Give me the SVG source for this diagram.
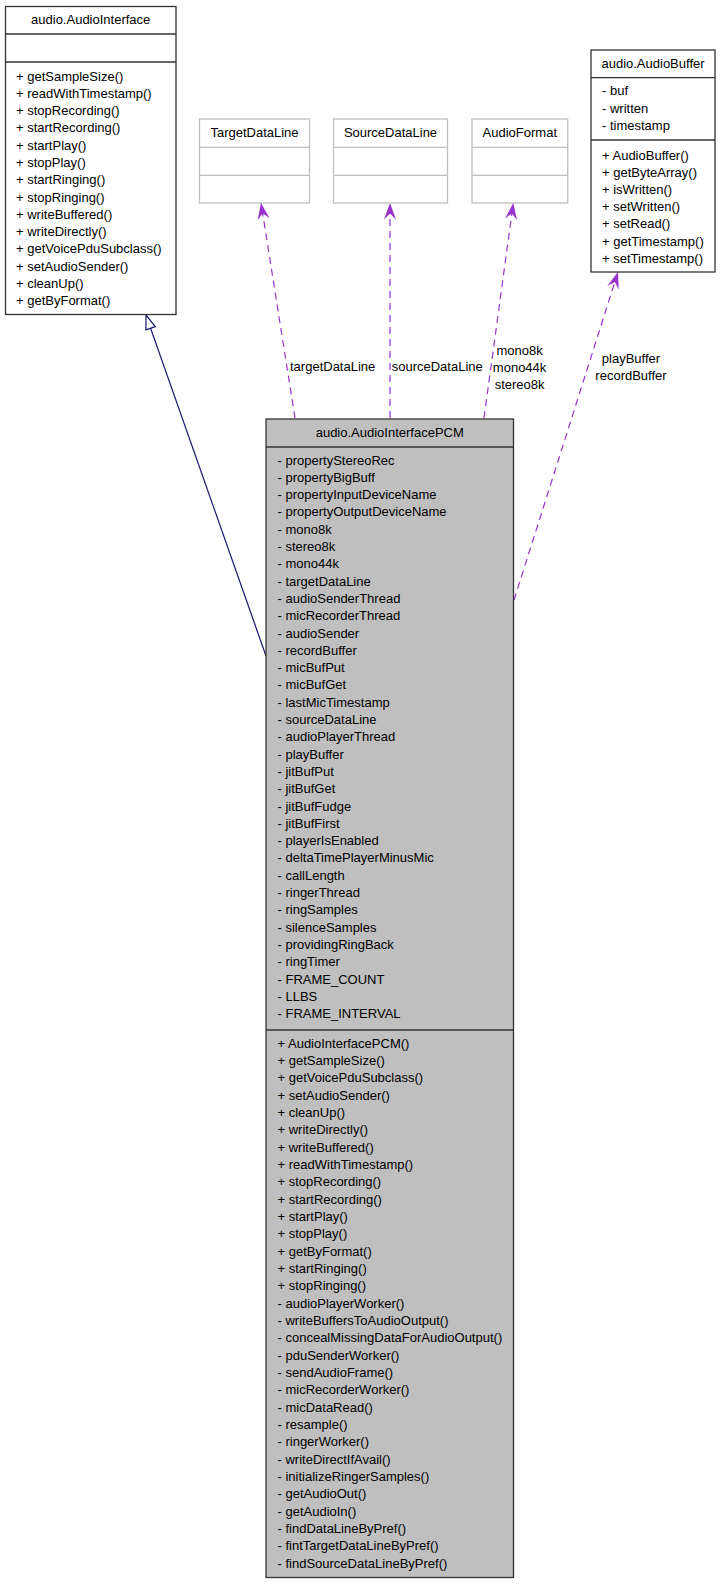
<svg xmlns="http://www.w3.org/2000/svg" width="720" height="1584" viewBox="0 0 720 1584">
<style>
text{font-family:"Liberation Sans",Arial,sans-serif;font-size:13px;fill:#000}
.c{text-anchor:middle}
.box{fill:#fff;stroke:#333;stroke-width:1.3}
.main{fill:#bfbfbf;stroke:#333;stroke-width:1.3}
.ext{fill:#fff;stroke:#c0c0c0;stroke-width:1.3}
.sep{stroke:#333;stroke-width:1.3}
.sepx{stroke:#c0c0c0;stroke-width:1.3}
.use{fill:none;stroke:#9a32cd;stroke-width:1.2;stroke-dasharray:7,5}
.inh{fill:none;stroke:#191970;stroke-width:1.2}
</style>
<defs>
<marker id="vee" markerUnits="userSpaceOnUse" viewBox="0 -7 17 14" refX="16.5" refY="0" markerWidth="17" markerHeight="14" orient="auto">
<path d="M16.5,0 L0,-6 L6,0 L0,6 Z" fill="#9a32cd" stroke="none"/>
</marker>
</defs>
<g id="connectors">
<line class="inh" x1="266" y1="656" x2="150.6" y2="328.2"/>
<polygon points="146,315 155.3,326.6 145.9,329.8" fill="#fff" stroke="#191970" stroke-width="1.2"/>
<path class="use" d="M295,418 L261,203" marker-end="url(#vee)"/>
<path class="use" d="M390,418 L390,203" marker-end="url(#vee)"/>
<path class="use" d="M484,418 L513.3,203" marker-end="url(#vee)"/>
<path class="use" d="M514,600 L618,272" marker-end="url(#vee)"/>
<text x="290" y="370.5">targetDataLine</text>
<text x="391.7" y="370.5">sourceDataLine</text>
<text class="c" x="519.6" y="354.5">mono8k</text>
<text class="c" x="519.6" y="371.5">mono44k</text>
<text class="c" x="519.6" y="388.5">stereo8k</text>
<text class="c" x="631" y="362.8">playBuffer</text>
<text class="c" x="631" y="379.5">recordBuffer</text>
</g>
<g id="AudioInterface">
<rect class="box" x="5.5" y="6.5" width="170.5" height="308"/>
<line class="sep" x1="5.5" y1="34" x2="176" y2="34"/>
<line class="sep" x1="5.5" y1="62" x2="176" y2="62"/>
<text class="c" x="90.7" y="24">audio.AudioInterface</text>
<text x="16" y="80.5">+ getSampleSize()</text>
<text x="16" y="97.8">+ readWithTimestamp()</text>
<text x="16" y="115.1">+ stopRecording()</text>
<text x="16" y="132.3">+ startRecording()</text>
<text x="16" y="149.6">+ startPlay()</text>
<text x="16" y="166.9">+ stopPlay()</text>
<text x="16" y="184.2">+ startRinging()</text>
<text x="16" y="201.5">+ stopRinging()</text>
<text x="16" y="218.7">+ writeBuffered()</text>
<text x="16" y="236">+ writeDirectly()</text>
<text x="16" y="253.3">+ getVoicePduSubclass()</text>
<text x="16" y="270.6">+ setAudioSender()</text>
<text x="16" y="287.9">+ cleanUp()</text>
<text x="16" y="305.1">+ getByFormat()</text>
</g>
<g id="TargetDataLine">
<rect class="ext" x="199.5" y="119" width="110" height="84"/>
<line class="sepx" x1="199.5" y1="147.3" x2="309.5" y2="147.3"/>
<line class="sepx" x1="199.5" y1="175.3" x2="309.5" y2="175.3"/>
<text class="c" x="254.5" y="137">TargetDataLine</text>
</g>
<g id="SourceDataLine">
<rect class="ext" x="333.5" y="119" width="114" height="84"/>
<line class="sepx" x1="333.5" y1="147.3" x2="447.5" y2="147.3"/>
<line class="sepx" x1="333.5" y1="175.3" x2="447.5" y2="175.3"/>
<text class="c" x="390.5" y="137">SourceDataLine</text>
</g>
<g id="AudioFormat">
<rect class="ext" x="472" y="119" width="95.7" height="84"/>
<line class="sepx" x1="472" y1="147.3" x2="567.7" y2="147.3"/>
<line class="sepx" x1="472" y1="175.3" x2="567.7" y2="175.3"/>
<text class="c" x="519.8" y="137">AudioFormat</text>
</g>
<g id="AudioBuffer">
<rect class="box" x="591" y="50" width="124" height="222"/>
<line class="sep" x1="591" y1="77.7" x2="715" y2="77.7"/>
<line class="sep" x1="591" y1="140" x2="715" y2="140"/>
<text class="c" x="653" y="68">audio.AudioBuffer</text>
<text x="602" y="95.2">- buf</text>
<text x="602" y="112.5">- written</text>
<text x="602" y="129.8">- timestamp</text>
<text x="602" y="159.5">+ AudioBuffer()</text>
<text x="602" y="176.7">+ getByteArray()</text>
<text x="602" y="193.9">+ isWritten()</text>
<text x="602" y="211.1">+ setWritten()</text>
<text x="602" y="228.3">+ setRead()</text>
<text x="602" y="245.5">+ getTimestamp()</text>
<text x="602" y="262.7">+ setTimestamp()</text>
</g>
<g id="AudioInterfacePCM">
<rect class="main" x="266" y="419" width="247.5" height="1158.5"/>
<line class="sep" x1="266" y1="447" x2="513.5" y2="447"/>
<line class="sep" x1="266" y1="1030" x2="513.5" y2="1030"/>
<text class="c" x="389.75" y="437">audio.AudioInterfacePCM</text>
<text x="277.5" y="464.5">- propertyStereoRec</text>
<text x="277.5" y="481.8">- propertyBigBuff</text>
<text x="277.5" y="499.1">- propertyInputDeviceName</text>
<text x="277.5" y="516.4">- propertyOutputDeviceName</text>
<text x="277.5" y="533.7">- mono8k</text>
<text x="277.5" y="551">- stereo8k</text>
<text x="277.5" y="568.3">- mono44k</text>
<text x="277.5" y="585.6">- targetDataLine</text>
<text x="277.5" y="602.9">- audioSenderThread</text>
<text x="277.5" y="620.2">- micRecorderThread</text>
<text x="277.5" y="637.5">- audioSender</text>
<text x="277.5" y="654.8">- recordBuffer</text>
<text x="277.5" y="672.1">- micBufPut</text>
<text x="277.5" y="689.4">- micBufGet</text>
<text x="277.5" y="706.7">- lastMicTimestamp</text>
<text x="277.5" y="724">- sourceDataLine</text>
<text x="277.5" y="741.3">- audioPlayerThread</text>
<text x="277.5" y="758.6">- playBuffer</text>
<text x="277.5" y="775.9">- jitBufPut</text>
<text x="277.5" y="793.2">- jitBufGet</text>
<text x="277.5" y="810.5">- jitBufFudge</text>
<text x="277.5" y="827.8">- jitBufFirst</text>
<text x="277.5" y="845.1">- playerIsEnabled</text>
<text x="277.5" y="862.4">- deltaTimePlayerMinusMic</text>
<text x="277.5" y="879.7">- callLength</text>
<text x="277.5" y="897">- ringerThread</text>
<text x="277.5" y="914.3">- ringSamples</text>
<text x="277.5" y="931.6">- silenceSamples</text>
<text x="277.5" y="948.9">- providingRingBack</text>
<text x="277.5" y="966.2">- ringTimer</text>
<text x="277.5" y="983.5">- FRAME_COUNT</text>
<text x="277.5" y="1000.8">- LLBS</text>
<text x="277.5" y="1018.1">- FRAME_INTERVAL</text>
<text x="277.5" y="1047.5">+ AudioInterfacePCM()</text>
<text x="277.5" y="1064.8">+ getSampleSize()</text>
<text x="277.5" y="1082.2">+ getVoicePduSubclass()</text>
<text x="277.5" y="1099.5">+ setAudioSender()</text>
<text x="277.5" y="1116.9">+ cleanUp()</text>
<text x="277.5" y="1134.2">+ writeDirectly()</text>
<text x="277.5" y="1151.5">+ writeBuffered()</text>
<text x="277.5" y="1168.9">+ readWithTimestamp()</text>
<text x="277.5" y="1186.2">+ stopRecording()</text>
<text x="277.5" y="1203.6">+ startRecording()</text>
<text x="277.5" y="1220.9">+ startPlay()</text>
<text x="277.5" y="1238.2">+ stopPlay()</text>
<text x="277.5" y="1255.6">+ getByFormat()</text>
<text x="277.5" y="1272.9">+ startRinging()</text>
<text x="277.5" y="1290.3">+ stopRinging()</text>
<text x="277.5" y="1307.6">- audioPlayerWorker()</text>
<text x="277.5" y="1324.9">- writeBuffersToAudioOutput()</text>
<text x="277.5" y="1342.3">- concealMissingDataForAudioOutput()</text>
<text x="277.5" y="1359.6">- pduSenderWorker()</text>
<text x="277.5" y="1377">- sendAudioFrame()</text>
<text x="277.5" y="1394.3">- micRecorderWorker()</text>
<text x="277.5" y="1411.6">- micDataRead()</text>
<text x="277.5" y="1429">- resample()</text>
<text x="277.5" y="1446.3">- ringerWorker()</text>
<text x="277.5" y="1463.7">- writeDirectIfAvail()</text>
<text x="277.5" y="1481">- initializeRingerSamples()</text>
<text x="277.5" y="1498.3">- getAudioOut()</text>
<text x="277.5" y="1515.7">- getAudioIn()</text>
<text x="277.5" y="1533">- findDataLineByPref()</text>
<text x="277.5" y="1550.4">- fintTargetDataLineByPref()</text>
<text x="277.5" y="1567.7">- findSourceDataLineByPref()</text>
</g>
</svg>
